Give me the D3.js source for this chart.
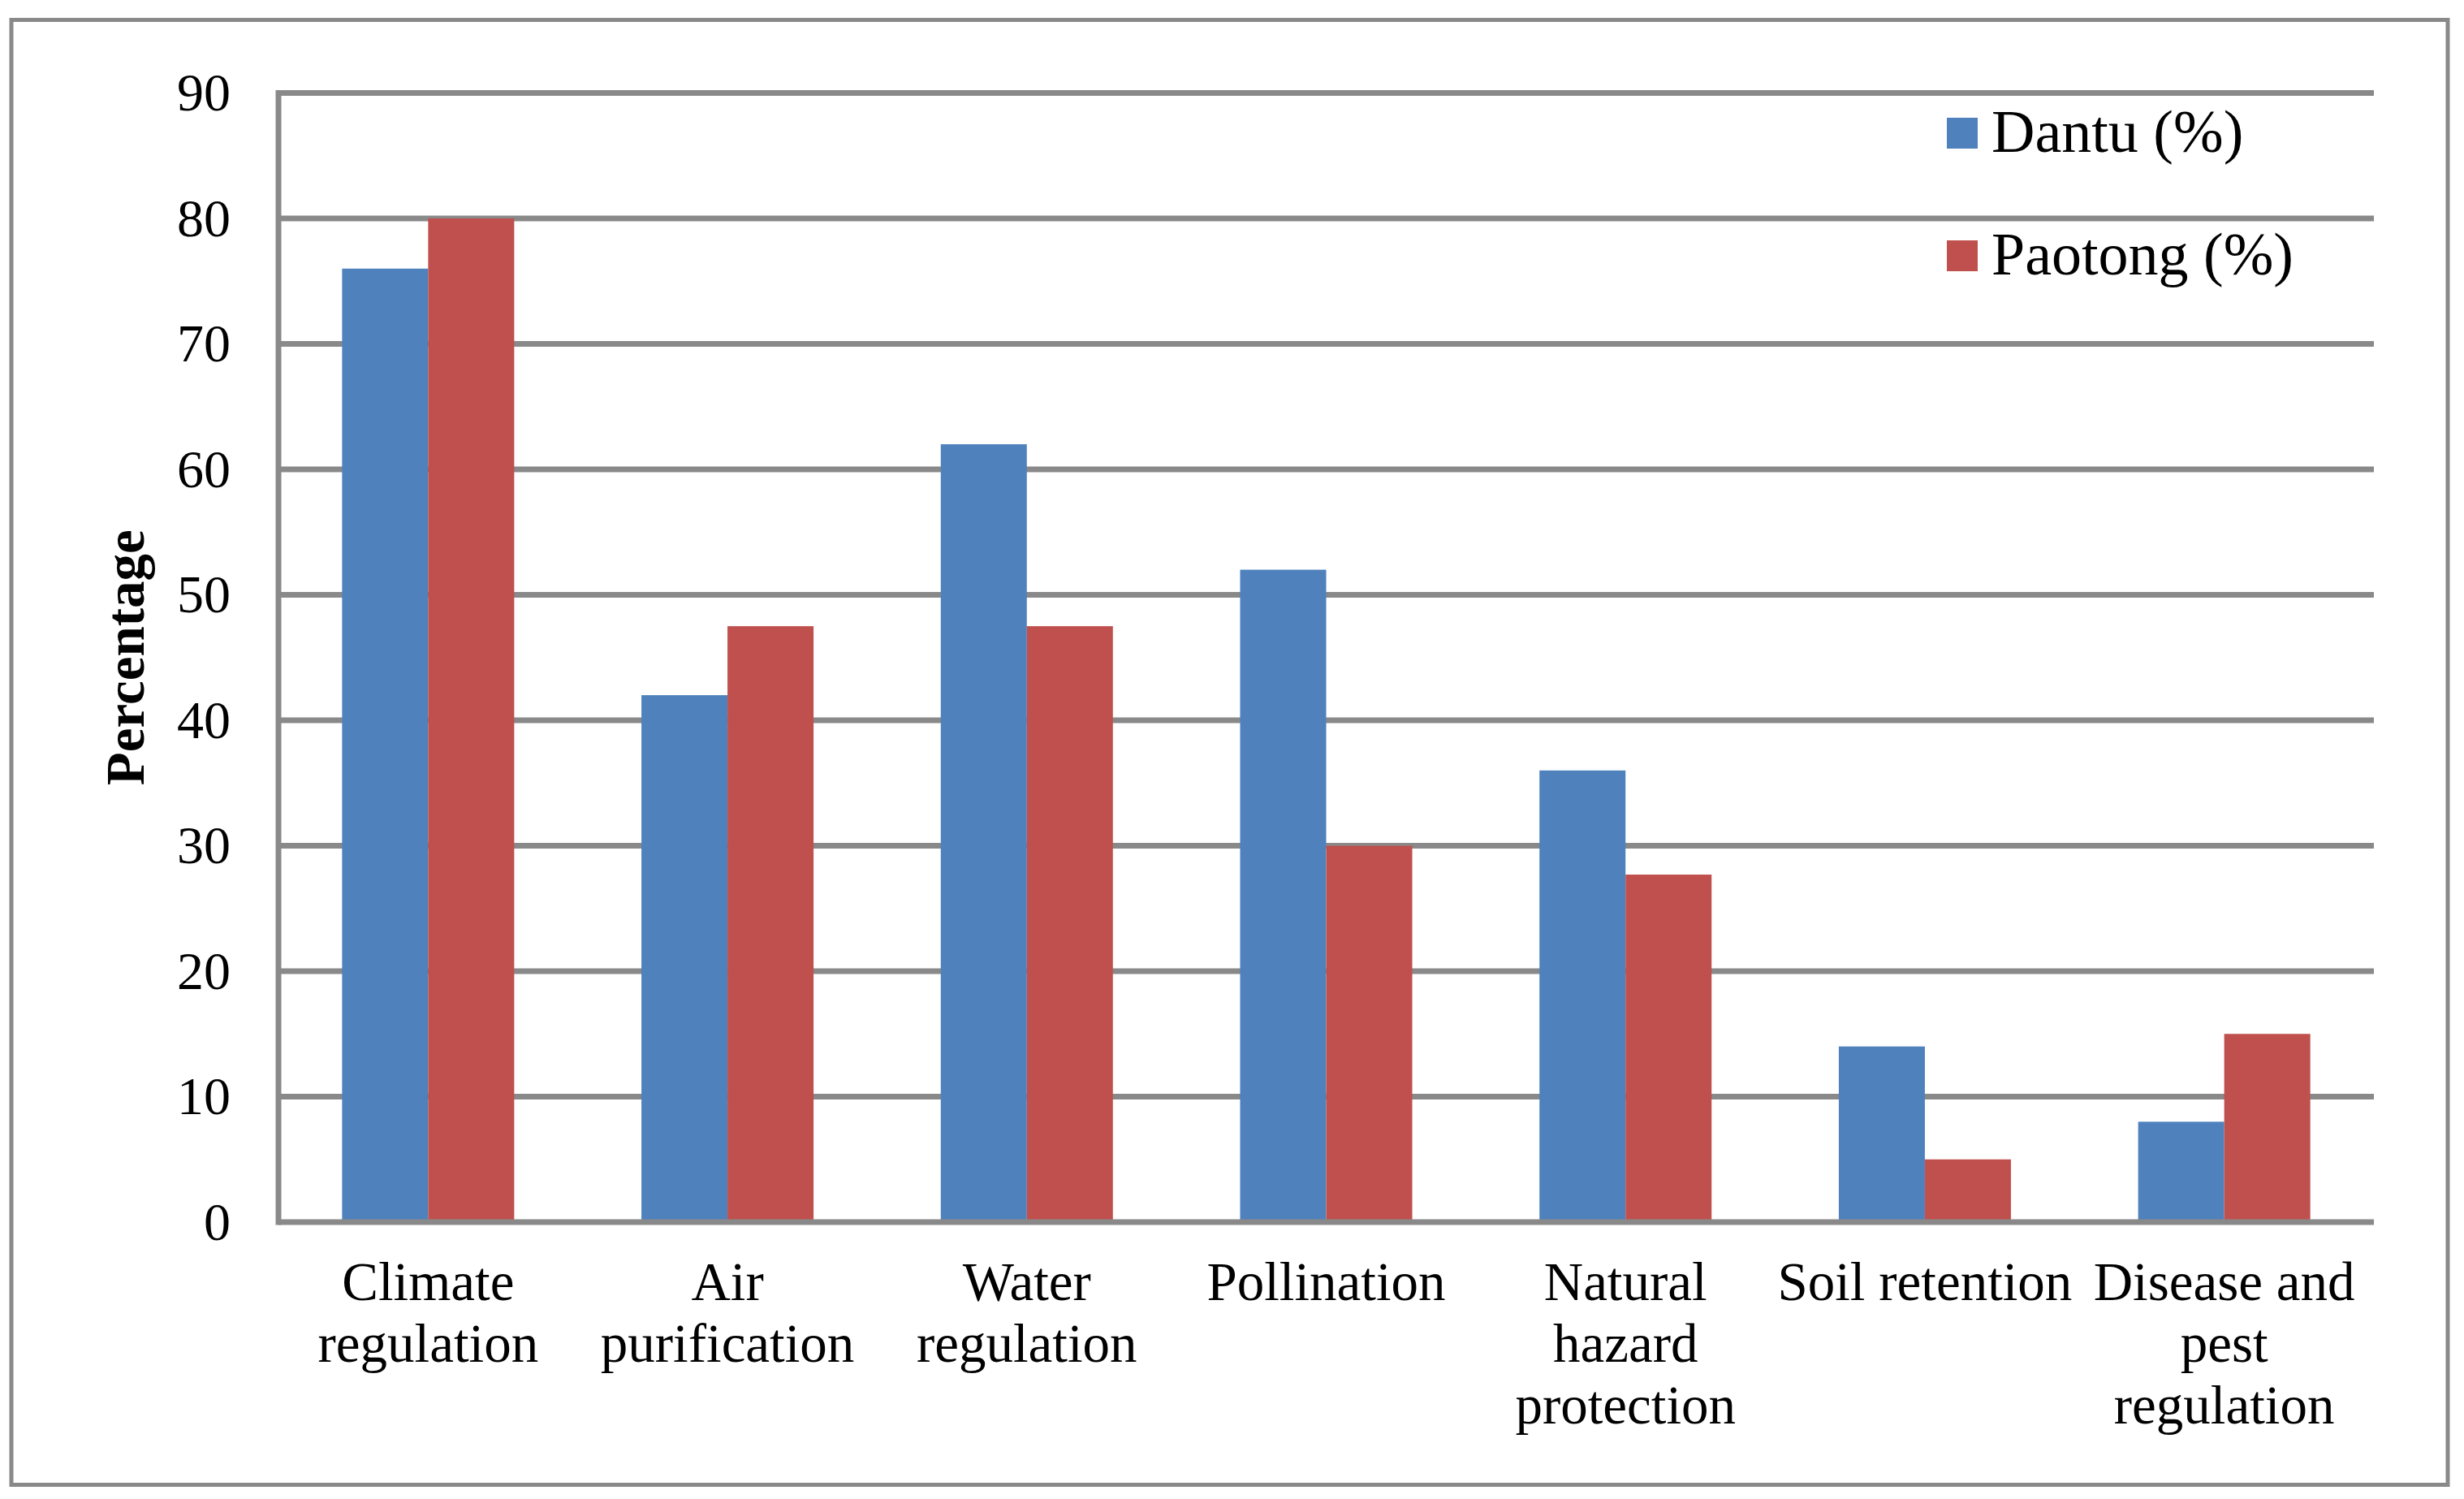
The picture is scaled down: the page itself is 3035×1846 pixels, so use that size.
<!DOCTYPE html>
<html>
<head>
<meta charset="utf-8">
<script src="https://cdn.jsdelivr.net/npm/d3@7"></script>
<style>
  html, body { margin: 0; padding: 0; background: #fff; }
  svg { display: block; }
  text { font-family: "Liberation Serif", "Times New Roman", serif; fill: #000; }
</style>
</head>
<body>
<svg id="chart" width="3035" height="1846"></svg>
<script>
// data
const categories = ["Climate regulation", "Air purification", "Water regulation", "Pollination",
  "Natural hazard protection", "Soil retention", "Disease and pest regulation"];
const labelLines = [["Climate", "regulation"], ["Air", "purification"], ["Water", "regulation"],
  ["Pollination"], ["Natural", "hazard", "protection"], ["Soil retention"], ["Disease and", "pest", "regulation"]];
const seriesNames = ["Dantu (%)", "Paotong (%)"];
const dantu = [76, 42, 62, 52, 36, 14, 8];
const paotong = [80, 47.5, 47.5, 30, 27.7, 5, 15];
const yTicks = [0, 10, 20, 30, 40, 50, 60, 70, 80, 90];
const colors = ["#4f81bd", "#c0504d"];

const svg = d3.select("#chart");
const grey = "#898989";

// outer frame
svg.append("rect")
  .attr("x", 14).attr("y", 24.5)
  .attr("width", 3001).attr("height", 1804)
  .attr("fill", "none").attr("stroke", grey).attr("stroke-width", 5);

const plot = { left: 343, right: 2924, top: 114.5, bottom: 1505 };

const y = d3.scaleLinear().domain([0, 90]).range([plot.bottom, plot.top]);
const x0 = d3.scaleBand().domain(categories).range([plot.left, plot.right])
  .paddingInner(0.425).paddingOuter(0.2125);
const x1 = d3.scaleBand().domain(seriesNames).range([0, x0.bandwidth()]);

// gridlines
svg.append("g").selectAll("line")
  .data(yTicks.filter(d => d > 0))
  .enter().append("line")
  .attr("x1", plot.left).attr("x2", plot.right)
  .attr("y1", d => y(d)).attr("y2", d => y(d))
  .attr("stroke", grey).attr("stroke-width", 7);

// bars
const rows = categories.map((c, i) => ({ cat: c, values: [dantu[i], paotong[i]] }));
const group = svg.append("g").selectAll("g")
  .data(rows)
  .enter().append("g")
  .attr("transform", d => `translate(${x0(d.cat)},0)`);

group.selectAll("rect")
  .data(d => d.values.map((v, j) => ({ name: seriesNames[j], value: v, j: j })))
  .enter().append("rect")
  .attr("x", d => x1(d.name))
  .attr("width", x1.bandwidth())
  .attr("y", d => y(d.value))
  .attr("height", d => y(0) - y(d.value))
  .attr("fill", d => colors[d.j]);

// axes lines
svg.append("line")
  .attr("x1", plot.left).attr("x2", plot.right)
  .attr("y1", y(0)).attr("y2", y(0))
  .attr("stroke", grey).attr("stroke-width", 7);
svg.append("line")
  .attr("x1", plot.left).attr("x2", plot.left)
  .attr("y1", plot.top - 3.5).attr("y2", y(0) + 3.5)
  .attr("stroke", grey).attr("stroke-width", 7);

// y tick labels
const yAxis = svg.append("g")
  .attr("transform", `translate(${plot.left},0)`)
  .call(d3.axisLeft(y).tickValues(yTicks).tickSize(0).tickPadding(59));
yAxis.select(".domain").remove();
yAxis.selectAll("text")
  .style("font-family", '"Liberation Serif", "Times New Roman", serif')
  .style("font-size", "66px")
  .attr("fill", "#000");

// category labels
const lab = svg.append("g").selectAll("text")
  .data(categories)
  .enter().append("text")
  .attr("x", d => x0(d) + x0.bandwidth() / 2)
  .attr("y", 1601)
  .attr("text-anchor", "middle")
  .style("font-size", "67px");
lab.selectAll("tspan")
  .data((d, i) => labelLines[i])
  .enter().append("tspan")
  .attr("x", function() { return this.parentNode.getAttribute("x"); })
  .attr("dy", (d, i) => i === 0 ? 0 : 76)
  .text(d => d);

// y axis title
svg.append("text")
  .attr("transform", `translate(177,${(plot.top + plot.bottom) / 2}) rotate(-90)`)
  .attr("text-anchor", "middle")
  .style("font-size", "67px")
  .style("font-weight", "bold")
  .text("Percentage");

// legend
const legend = svg.append("g").selectAll("g")
  .data(seriesNames)
  .enter().append("g")
  .attr("transform", (d, i) => `translate(2398,${145 + i * 151})`);
legend.append("rect")
  .attr("width", 38).attr("height", 38)
  .attr("fill", (d, i) => colors[i]);
legend.append("text")
  .attr("x", 55).attr("y", 42)
  .style("font-size", "74px")
  .text(d => d);
</script>
</body>
</html>
